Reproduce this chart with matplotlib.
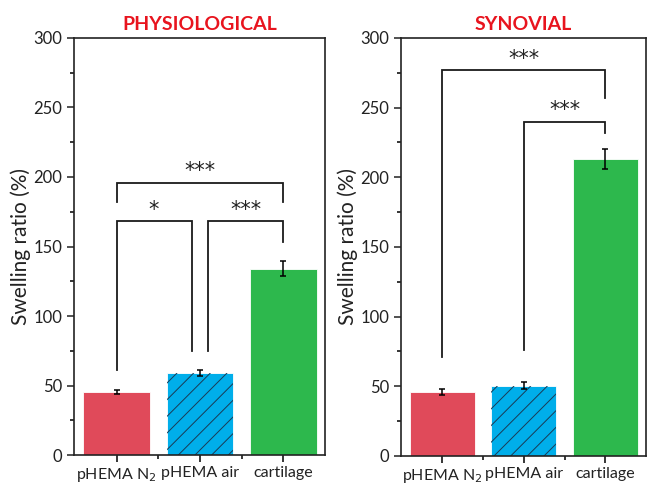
import matplotlib
matplotlib.use("Agg")
import matplotlib.pyplot as plt
from matplotlib.ticker import MultipleLocator, FixedLocator

plt.rcParams["font.family"] = ["Lato", "DejaVu Sans"]
plt.rcParams["hatch.linewidth"] = 0.7

# data
categories = ["pHEMA N$_2$", "pHEMA air", "cartilage"]
phys_values = [45.3, 59.0, 134.0]
phys_errors = [1.6, 2.0, 5.5]
syn_values = [46.0, 50.5, 213.0]
syn_errors = [2.0, 2.5, 7.0]

# brackets: (x_left, x_right, y_top, left_leg_end, right_leg_end, label)
phys_brackets = [
    (1.0, 3.0, 196, 182, 182, "***"),
    (1.0, 1.9, 168, 61, 75, "*"),
    (2.1, 3.0, 168, 75, 153, "***"),
]
syn_brackets = [
    (1.0, 3.0, 277, 71, 257, "***"),
    (2.0, 3.0, 240, 76, 232, "***"),
]

bar_colors = ["#E04A5A", "#00AEEA", "#2DB84D"]
bar_hatches = [None, "//", None]

fig = plt.figure(figsize=(6.48, 4.84), dpi=100)
ax1 = fig.add_axes([0.1142, 0.0599, 0.3873, 0.8616])
ax2 = fig.add_axes([0.6188, 0.0579, 0.3780, 0.8636])


def draw_panel(ax, values, errors, brackets, title):
    xs = list(range(1, len(categories) + 1))
    for x, v, e, c, h in zip(xs, values, errors, bar_colors, bar_hatches):
        ax.bar(x, v, width=0.8, color=c, edgecolor="white", linewidth=0.6,
               zorder=2)
        if h:
            ax.bar(x, v, width=0.8, color="none", edgecolor="#1a3a55",
                   linewidth=0, hatch=h, zorder=2)
        ax.errorbar(x, v, yerr=e, color="black", capsize=2, elinewidth=1.1,
                    capthick=1.1, zorder=3)

    for xl, xr, yt, yl, yr, lab in brackets:
        ax.plot([xl, xl, xr, xr], [yl, yt, yt, yr], color="#1a1a1a",
                lw=1.3, zorder=4, solid_joinstyle="miter")
        ax.text((xl + xr) / 2, yt + 1.0, lab, ha="center", va="bottom",
                fontsize=15, color="#222222", family="DejaVu Sans")

    ax.set_xlim(0.49, 3.5)
    ax.set_ylim(0, 300)
    ax.set_xticks(xs)
    ax.set_xticklabels(categories, fontsize=11.5, color="#222222")
    ax.xaxis.set_minor_locator(FixedLocator([1.5, 2.5]))
    ax.yaxis.set_major_locator(MultipleLocator(50))
    ax.yaxis.set_minor_locator(MultipleLocator(25))
    ax.tick_params(axis="y", which="major", labelsize=12, length=5,
                   width=1.1, colors="#222222")
    ax.tick_params(axis="y", which="minor", length=3, width=1.1)
    ax.tick_params(axis="x", which="major", length=5, width=1.1, pad=3)
    ax.tick_params(axis="x", which="minor", length=3, width=1.1)
    for s in ax.spines.values():
        s.set_linewidth(1.2)
        s.set_color("#222222")
    ax.set_ylabel("Swelling ratio (%)", fontsize=15, color="#222222",
                  labelpad=2)
    ax.set_title(title, color="#E8141E", fontsize=14, fontweight="bold",
                 pad=6)


draw_panel(ax1, phys_values, phys_errors, phys_brackets, "PHYSIOLOGICAL")
draw_panel(ax2, syn_values, syn_errors, syn_brackets, "SYNOVIAL")

fig.savefig("out.png", dpi=100)
